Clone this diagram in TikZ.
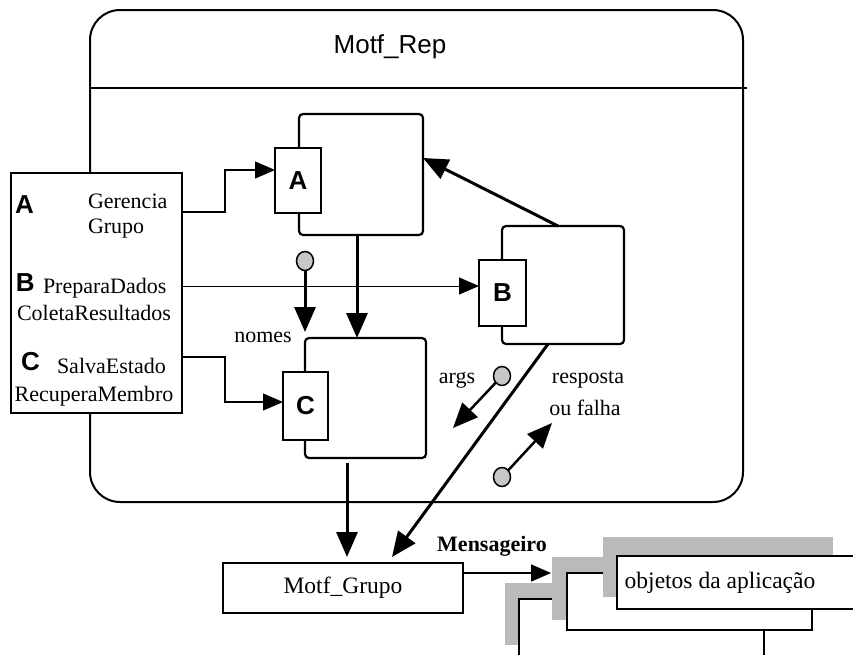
\documentclass[tikz,border=0pt]{standalone}
\usepackage{fontspec}
\setmainfont{Liberation Serif}
\setsansfont{Liberation Sans}
\usetikzlibrary{arrows.meta,shapes.geometric}
\newcommand{\serifsz}{\fontsize{22}{25}\selectfont}
\newcommand{\boxsz}{\fontsize{23.5}{26}\selectfont}
\newcommand{\letsz}{\fontsize{26}{28}\selectfont\sffamily\bfseries}
\begin{document}
\begin{tikzpicture}[x=1pt,y=-1pt,
  every node/.style={inner sep=0pt, outer sep=0pt},
  frame/.style={draw, line width=2pt},
  compbox/.style={draw, line width=2.2pt, rounded corners=4pt, fill=white},
  portbox/.style={draw, line width=2pt, fill=white, font=\letsz},
  heavy/.style={line width=3pt, -{Triangle[length=25pt,width=21pt]}},
  light/.style={line width=1.2pt, -{Triangle[length=20pt,width=17pt]}},
  token/.style={ellipse, draw, line width=1.5pt, fill=black!22, minimum width=17pt, minimum height=19pt},
  txt/.style={font=\serifsz},
  shadowbox/.style={fill=black!27},
  sheet/.style={draw, line width=2.2pt, fill=white}
]
\useasboundingbox (0,0) rectangle (853,654);

% replicated object frame
\node[frame, rounded corners=30pt, minimum width=653pt, minimum height=492pt] (rep) at (416.5,256) {};
\coordinate (divL) at (90,88);
\coordinate (divR) at (747,88);
\draw[line width=2pt] (divL) -- (divR);
\node[font=\sffamily\fontsize{26}{28}\selectfont] (title) at (390,47) {Motf\_Rep};

% operations interface
\node[draw, line width=2.2pt, fill=white, minimum width=171pt, minimum height=240pt] (ops) at (96.5,293) {};
\node[font=\letsz, anchor=west] (opA) at (15,205) {A};
\node[txt, anchor=west] (gerencia) at (88,201) {Gerencia};
\node[txt, anchor=west] (grupoTxt) at (88,229) {Grupo};
\node[font=\letsz, anchor=west] (opB) at (16,283) {B};
\node[txt, anchor=west] (prepara) at (43,288) {PreparaDados};
\node[txt] (coleta) at (94,313) {ColetaResultados};
\node[font=\letsz, anchor=west] (opC) at (21,362) {C};
\node[txt, anchor=west] (salva) at (57,366) {SalvaEstado};
\node[txt] (recupera) at (94,396) {RecuperaMembro};

% components and their ports
\node[compbox, minimum width=124pt, minimum height=121pt] (compA) at (361,174.5) {};
\node[portbox, minimum width=46pt, minimum height=65pt] (portA) at (298,180.5) {A};
\node[compbox, minimum width=122pt, minimum height=118pt] (compB) at (563,285) {};
\node[portbox, minimum width=47pt, minimum height=66pt] (portB) at (502.5,293) {B};
\node[compbox, minimum width=121pt, minimum height=120pt] (compC) at (365.5,398) {};
\node[portbox, minimum width=45pt, minimum height=68pt] (portC) at (305.5,406) {C};

% operations wiring
\draw[light] (ops.east |- 0,212) -- (225,212) |- ([yshift=10.5pt]portA.west);
\draw[light, line width=1pt] (ops.east |- 0,286) -- (portB.west |- 0,286);
\draw[light] (ops.east |- 0,357) -- (225,357) |- ([yshift=4pt]portC.west);

% internal flows
\draw[heavy] ([xshift=-4pt]compA.south) -- ([xshift=-4pt]compA.south |- compC.north);
\node[token] (tokN) at (305,261) {};
\coordinate (nomesTip) at (305,332);
\draw[heavy] (tokN) -- (nomesTip);
\node[txt] (nomes) at (263,337) {nomes};
\draw[heavy] ([xshift=-5pt]compB.north) -- ([yshift=16.5pt]compA.east);

% group messenger
\node[draw, line width=2.2pt, fill=white, minimum width=240pt, minimum height=50pt, font=\boxsz] (grupo) at (343,588) {Motf\_Grupo};
\draw[heavy] ([xshift=-18.5pt,yshift=-5pt]compC.south) -- ([xshift=4pt,yshift=6pt]grupo.north);
\draw[heavy] ([xshift=-15pt]compB.south) -- ([xshift=49pt,yshift=6pt]grupo.north);

% request and reply tokens
\node[token] (tokArgs) at (502,376) {};
\coordinate (argsTip) at (453,428);
\draw[heavy, line width=2.5pt] (tokArgs) -- (argsTip);
\node[txt] (args) at (457,380) {args};
\node[token] (tokResp) at (502,477) {};
\coordinate (respTip) at (552,423);
\draw[heavy, line width=2.5pt] (tokResp) -- (respTip);
\node[txt] (resp1) at (588,380) {resposta};
\node[txt] (resp2) at (585,408) {ou falha};

% application objects stack
\path[shadowbox] (505,583) rectangle (750,645);
\node[sheet, minimum width=245pt, minimum height=61pt] (objBack) at (641.5,629.5) {};
\path[shadowbox] (552,557) rectangle (800,620);
\node[sheet, minimum width=245pt, minimum height=57pt] (objMid) at (689.5,601.5) {};
\path[shadowbox] (603,537) rectangle (833,597);
\node[sheet, minimum width=243pt, minimum height=53pt] (objFront) at (738.5,582.5) {};
\node[font=\boxsz] (objTxt) at (720,583) {objetos da aplicação};

\coordinate (msgTip) at (551,573);
\draw[light, line width=1.8pt] (grupo.east |- msgTip) -- (msgTip);
\node[font=\serifsz\bfseries] (mensageiro) at (492,546) {Mensageiro};
\end{tikzpicture}
\end{document}
